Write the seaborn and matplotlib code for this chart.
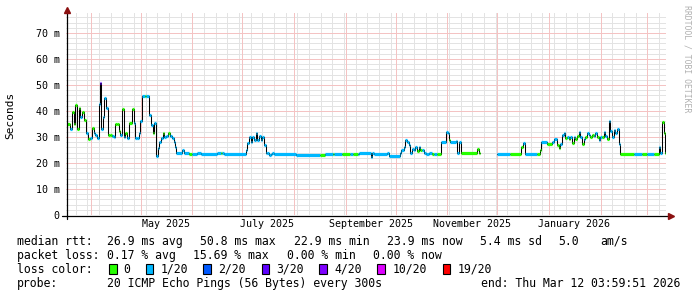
import numpy as np
import pandas as pd
import matplotlib
matplotlib.use("Agg")
import matplotlib.pyplot as plt
import matplotlib.dates as mdates
from matplotlib.patches import Rectangle
from matplotlib.lines import Line2D
import seaborn as sns

# ---------------- data ----------------
START = pd.Timestamp("2025-03-17 03:59:51")
END = pd.Timestamp("2026-03-12 03:59:51")
REF = pd.Timestamp("2025-03-18 00:00:00")   # day offsets are counted from here

day_offset = [
    0, 1.6, 2.6, 3.8, 4.8, 5.8, 6.8, 7.6, 8.8, 10.2,
    11.2, 12.6, 13.8, 14.6, 15.8, 16.6, 17.6, 18.8, 19.6, 20.2,
    21.2, 22.2, 23.4, 24.2, 25.4, 26.6, 27.8, 28.8, 29.8, 30.8,
    31.8, 32.8, 33.8, 34.8, 35.8, 37.2, 38.8, 39.8, 40.8, 41.8,
    42.8, 43.8, 44.8, 46.4, 47.4, 49.2, 50.2, 51.2, 52.2, 53.2,
    54.2, 55.2, 56.2, 57.2, 58.2, 59.2, 60.6, 61.8, 62.8, 63.8, 64.8,
    65.4, 69, 70, 73, 74.5, 78, 80, 90, 92, 93, 94,
    107, 108, 109, 110, 111, 112, 113, 114, 115, 116, 117, 118, 119, 120, 121, 122, 123, 124,
    137, 151.8, 154.8, 159.2, 160.2, 164.8, 169.8, 171.2, 174.2, 175.2, 182, 183, 184, 191.5, 193,
    199.4, 200.4, 201.8, 202.8, 203.8, 204.8, 205.8, 206.8, 207.8, 208.8, 209.8, 210.8, 211.8, 212.8, 213.8,
    215, 217, 218.5, 220, 222, 224.2, 227.4, 228.2, 228.8, 229.8, 233.4, 234, 235, 236, 236.4, 245.8, 246.8, 247.8,
    258, 265.8, 272.2, 273.4, 274.6, 281.8, 283.4, 284.2, 287.8, 290.8, 291.8, 293.8, 294.8, 295.8,
    296.8, 297.8, 298.8, 299.8, 300.8, 301.8, 302.8, 303.8, 304.8, 305.8, 306.8, 307.8, 308.8, 309.8,
    310.8, 311.8, 312.8, 313.8, 314.8, 315.8, 316.8, 317.8, 318.8, 319.8, 320.8, 321.8, 322.8, 323.8,
    324.8, 325.8, 326.8, 327.8, 328.8, 329.8, 330.8, 331.4, 339.8, 344.8, 347.8, 351.8,
    354.8, 355.8, 356.8, 357.8, 358.4, 359,
]
rtt_ms = [
    34.9, 32.9, 39.7, 34.9, 42.3, 33.0, 41.0, 37.8, 39.7, 36.5,
    31.4, 29.1, 29.5, 33.3, 31.4, 30.8, 29.5, 42.6, 50.9, 32.9,
    37.8, 44.9, 41.0, 30.8, 30.8, 30.4, 30.0, 34.9, 35.1, 32.5,
    30.8, 40.6, 30.0, 31.4, 29.5, 35.4, 40.6, 35.4, 29.5, 29.5,
    31.6, 36.3, 45.9, 45.9, 45.9, 38.5, 34.6, 31.4, 35.5, 22.7,
    25.6, 28.2, 29.5, 31.4, 30.0, 30.4, 31.6, 30.4, 29.5, 28.0, 26.0,
    24.0, 25.0, 24.0, 23.5, 23.5, 24.0, 23.5, 24.0, 24.0, 24.0, 23.3,
    25.0, 27.6, 30.0, 28.0, 30.0, 29.0, 31.5, 29.0, 30.5, 29.0, 30.0, 27.0, 24.0, 24.0, 23.0, 23.5, 24.0, 23.5,
    23.0, 23.0, 23.5, 23.5, 23.5, 23.3, 23.3, 23.3, 23.3, 24.0, 22.5, 24.0, 23.3, 24.0, 22.8,
    24.0, 25.0, 26.3, 29.0, 28.0, 27.0, 24.0, 25.5, 25.0, 26.0, 24.5, 26.0, 25.0, 25.0, 24.0,
    23.5, 24.0, 23.5, 23.5, 23.5, 28.0, 32.0, 31.5, 29.0, 28.0, 28.5, 24.0, 28.0, 26.0, 24.0, 25.5, 24.0, np.nan,
    23.5, 23.5, 26.2, 27.6, 23.5, 23.5, 25.0, 28.2, 27.4, 28.2, 29.1, 26.9, 25.6, 27.4,
    30.8, 31.4, 29.5, 30.1, 29.1, 29.9, 27.6, 29.9, 29.4, 30.3, 31.9, 29.9, 27.4, 29.4,
    29.9, 31.4, 30.8, 29.9, 30.8, 30.3, 31.4, 29.9, 28.8, 29.9, 29.9, 31.8, 30.3, 29.1,
    36.3, 32.4, 29.9, 32.7, 31.5, 33.0, 27.4, 23.5, 23.5, 23.5, 23.5, 23.5,
    26.2, 23.8, 35.9, 31.4, 24.0, np.nan,
]
# packets lost out of 20 for each sample
loss_n = [
    0, 1, 0, 0, 0, 0, 0, 1, 0, 0,
    1, 0, 1, 0, 1, 1, 1, 1, 3, 1,
    1, 1, 1, 0, 0, 1, 1, 0, 0, 0,
    1, 0, 1, 0, 1, 0, 0, 1, 1, 1,
    1, 1, 1, 0, 1, 1, 1, 0, 1, 1,
    1, 1, 1, 0, 1, 1, 0, 1, 1, 1, 1,
    1, 1, 1, 0, 1, 1, 1, 1, 0, 1, 1,
    1, 1, 1, 1, 1, 1, 1, 1, 1, 1, 1, 1, 1, 1, 1, 1, 1, 1,
    1, 0, 1, 0, 1, 0, 1, 0, 1, 1, 1, 1, 1, 1, 1,
    1, 1, 1, 1, 1, 1, 1, 1, 1, 1, 0, 1, 0, 1, 1,
    1, 1, 0, 1, 0, 1, 1, 1, 0, 1, 1, 1, 1, 1, 0, 0, 0, 0,
    1, 0, 0, 1, 1, 0, 0, 1, 0, 1, 1, 0, 0, 1,
    1, 1, 0, 1, 0, 1, 0, 1, 0, 0, 1, 1, 0, 1,
    0, 1, 1, 0, 0, 1, 1, 0, 1, 1, 0, 1, 1, 0,
    1, 1, 1, 1, 1, 1, 1, 0, 1, 0, 1, 0,
    1, 1, 0, 0, 0, 0,
]

loss_levels = [0, 1, 2, 3, 4, 10, 19]
loss_labels = ["0", "1/20", "2/20", "3/20", "4/20", "10/20", "19/20"]
loss_colors = ["#26ff00", "#00b8ff", "#0059ff", "#5e00ff", "#7e00ff", "#dd00ff", "#ff0000"]

y_ticks = [0, 10, 20, 30, 40, 50, 60, 70]
y_tick_labels = ["0", "10 m", "20 m", "30 m", "40 m", "50 m", "60 m", "70 m"]
x_label_dates = ["2025-05-16", "2025-07-16", "2025-09-16", "2025-11-16", "2026-01-16"]
x_tick_labels = ["May 2025", "July 2025", "September 2025", "November 2025", "January 2026"]

legend_rows = [
    [(16.7, "median rtt:"), (107.3, "26.9 ms avg"), (200.5, "50.8 ms max"), (293.5, "22.9 ms min"),
     (386.7, "23.9 ms now"), (479.5, "5.4 ms sd"), (558.3, "5.0"), (600.7, "am/s")],
    [(16.7, "packet loss:"), (107.3, "0.17 % avg"), (193.5, "15.69 % max"), (286.7, "0.00 % min"),
     (373.0, "0.00 % now")],
    [(16.7, "loss color:")],
    [(16.7, "probe:"), (107.3, "20 ICMP Echo Pings (56 Bytes) every 300s")],
]
end_text = "end: Thu Mar 12 03:59:51 2026"
box_x = [109.0, 145.7, 203.3, 261.7, 319.3, 377.3, 442.7]
box_text_x = [123.3, 160.7, 218.3, 276.0, 334.0, 392.7, 457.3]

# ---------------- figure ----------------
W, H = 697, 297
sns.set_style("white")
plt.rcParams["font.family"] = ["DejaVu Sans Mono"]
MONO = "DejaVu Sans Mono"

fig = plt.figure(figsize=(W / 100, H / 100), dpi=100)
fig.patch.set_facecolor("white")

X0, X1, YB, YT = 66.0, 666.0, 215.0, 13.0
ax = fig.add_axes([X0 / W, 1 - YB / H, (X1 - X0) / W, (YB - YT) / H])
ax.set_facecolor("white")
YMAX = 77.7


def fx(x):
    return x / W


def fy(y):
    return 1 - y / H


# grid: thin light lines (weekly / 2 m minor, monthly / 10 m major)
weeks = pd.date_range("2025-03-16", "2026-03-12", freq="W-SUN")
months = pd.date_range("2025-04-01", "2026-03-01", freq="MS")
MINOR = "#e3e3e3"
MAJOR = "#f4c3c3"
gkw = dict(linewidth=0.72, linestyle="-", antialiased=False, snap=True)
for t in weeks:
    ax.axvline(t, color=MINOR, zorder=1, **gkw)
for v in np.arange(2, YMAX, 2):
    ax.axhline(v, color=MINOR, zorder=1, **gkw)
for t in months:
    ax.axvline(t, color=MAJOR, zorder=2, **gkw)
for v in np.arange(10, YMAX, 10):
    ax.axhline(v, color=MAJOR, zorder=2, **gkw)

# data
df = pd.DataFrame({"day": day_offset, "ms": rtt_ms, "loss": loss_n})
df["t"] = REF + pd.to_timedelta(df["day"], unit="D")
df["t_end"] = df["t"].shift(-1)
df["seg"] = df["ms"].isna().cumsum()
pts = df.dropna(subset=["ms"]).copy()
ends = pts.groupby("seg").tail(1).copy()
ends["t"] = ends["t_end"]
line_df = pd.concat([pts, ends]).sort_values(["seg", "t"]).reset_index(drop=True)

sns.lineplot(data=line_df, x="t", y="ms", units="seg", estimator=None, sort=False,
             drawstyle="steps-post", color="#000000", linewidth=0.75, ax=ax, legend=False, zorder=3)

cmap = dict(zip(loss_levels, loss_colors))
lc = ax.hlines(pts["ms"], mdates.date2num(pts["t"]), mdates.date2num(pts["t_end"]),
               colors=[cmap[v] for v in pts["loss"]], linewidth=2.3, zorder=4)
lc.set_capstyle("butt")

ax.set_xlim(START, END)
ax.set_ylim(0, YMAX)
for s in ax.spines.values():
    s.set_visible(False)
ax.set_xlabel("")
ax.set_ylabel("")
ax.set_xticks(pd.to_datetime(x_label_dates))
ax.set_xticklabels(x_tick_labels, fontfamily=MONO, fontsize=7.2, color="#000000")
ax.set_yticks(y_ticks)
ax.set_yticklabels(y_tick_labels, fontfamily=MONO, fontsize=7.2, color="#000000")
ax.tick_params(axis="x", length=0, pad=3.2)
ax.tick_params(axis="y", length=0, pad=4.6)

# axes lines and arrows
ARROW = "#8b1010"
fig.add_artist(Line2D([fx(62), fx(669)], [fy(215.5), fy(215.5)], color="black", lw=0.9))
fig.add_artist(Line2D([fx(66.5), fx(66.5)], [fy(219), fy(11)], color="black", lw=0.9))
fig.add_artist(Line2D([fx(671)], [fy(215.5)], marker=">", markersize=4.2, color=ARROW, lw=0))
fig.add_artist(Line2D([fx(66.5)], [fy(9.5)], marker="^", markersize=4.2, color=ARROW, lw=0))

# axis title and watermark
fig.text(fx(10.7), fy(115), "Seconds", rotation=90, ha="center", va="center",
         fontsize=8.0, family=MONO, color="#000000")
fig.text(fx(687), fy(5), "RRDTOOL / TOBI OETIKER", rotation=270, ha="center", va="top",
         fontsize=5.9, family=MONO, color="#b0b0b0")

# legend block
baselines = [245.0, 259.0, 273.0, 287.0]
for row, yb in zip(legend_rows, baselines):
    for x, s in row:
        fig.text(fx(x), fy(yb), s, ha="left", va="baseline", fontsize=8.3, family=MONO, color="#000000")
fig.text(fx(680.5), fy(287.0), end_text, ha="right", va="baseline", fontsize=8.3, family=MONO, color="#000000")

for bx, tx, lab, col in zip(box_x, box_text_x, loss_labels, loss_colors):
    fig.add_artist(Rectangle((fx(bx), fy(274.0)), 7.5 / W, 9.8 / H, transform=fig.transFigure,
                             facecolor=col, edgecolor="black", linewidth=0.8))
    fig.text(fx(tx), fy(273.0), lab, ha="left", va="baseline", fontsize=8.3, family=MONO, color="#000000")

fig.savefig("out.png", dpi=100, facecolor="white")
